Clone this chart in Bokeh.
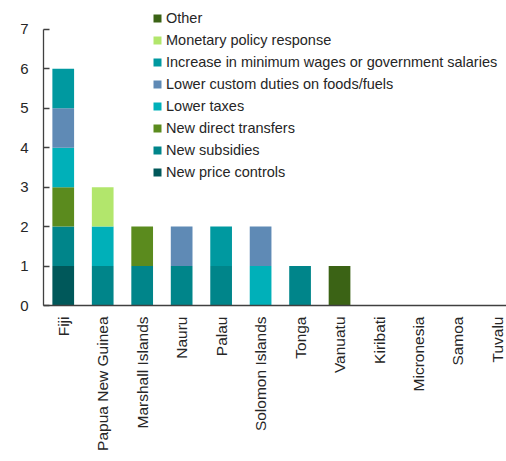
import math
from bokeh.plotting import figure
from bokeh.models import (Range1d, FixedTicker, SingleIntervalTicker, Legend, LegendItem,
                          ColumnDataSource)
from bokeh.embed import file_html
from bokeh.resources import INLINE

countries = ["Fiji", "Papua New Guinea", "Marshall Islands", "Nauru", "Palau",
             "Solomon Islands", "Tonga", "Vanuatu", "Kiribati", "Micronesia",
             "Samoa", "Tuvalu"]

price_controls = [1, 0, 0, 0, 0, 0, 0, 0, 0, 0, 0, 0]
subsidies      = [1, 1, 1, 1, 1, 0, 1, 0, 0, 0, 0, 0]
direct_transf  = [1, 0, 1, 0, 0, 0, 0, 0, 0, 0, 0, 0]
lower_taxes    = [1, 1, 0, 0, 0, 1, 0, 0, 0, 0, 0, 0]
custom_duties  = [1, 0, 0, 1, 0, 1, 0, 0, 0, 0, 0, 0]
wages          = [1, 0, 0, 0, 1, 0, 0, 0, 0, 0, 0, 0]
monetary       = [0, 1, 0, 0, 0, 0, 0, 0, 0, 0, 0, 0]
other          = [0, 0, 0, 0, 0, 0, 0, 1, 0, 0, 0, 0]

series_keys = ["price_controls", "subsidies", "direct_transf", "lower_taxes",
               "custom_duties", "wages", "monetary", "other"]
series_names = ["New price controls", "New subsidies", "New direct transfers",
                "Lower taxes", "Lower custom duties on foods/fuels",
                "Increase in minimum wages or government salaries",
                "Monetary policy response", "Other"]
series_colors = ["#00585a", "#00858a", "#5b8b1e", "#00b0b9", "#5f8ab5",
                 "#0099a0", "#b2e66c", "#3b6315"]

FONT = "Liberation Sans"

x_idx = list(range(len(countries)))
data = dict(x=x_idx, price_controls=price_controls, subsidies=subsidies,
            direct_transf=direct_transf, lower_taxes=lower_taxes,
            custom_duties=custom_duties, wages=wages, monetary=monetary, other=other)
source = ColumnDataSource(data)

p = figure(width=506, height=461, output_backend="svg", toolbar_location=None,
           x_range=Range1d(-0.5, 11.23), y_range=Range1d(0, 7.53),
           min_border_left=43, min_border_top=8, min_border_right=0,
           min_border_bottom=156)

renderers = p.vbar_stack(series_keys, x="x", width=0.55, color=series_colors,
                         source=source, line_color=None)

p.xgrid.visible = False
p.ygrid.visible = False
p.outline_line_color = None
p.background_fill_color = "white"
p.border_fill_color = "white"

# x axis
p.xaxis.ticker = FixedTicker(ticks=x_idx)
p.xaxis.major_label_overrides = {i: c for i, c in enumerate(countries)}
p.xaxis.major_label_orientation = math.pi / 2
p.xaxis.major_tick_in = 0
p.xaxis.major_tick_out = 0
p.xaxis.minor_tick_in = 0
p.xaxis.minor_tick_out = 0
p.xaxis.major_label_standoff = 11
p.xaxis.major_label_text_font_size = "15.5px"

# y axis
p.yaxis.ticker = SingleIntervalTicker(interval=1)
p.yaxis.bounds = (0, 7)
p.yaxis.major_tick_in = 6
p.yaxis.major_tick_out = 0
p.yaxis.minor_tick_in = 0
p.yaxis.minor_tick_out = 0
p.yaxis.major_label_standoff = 15
p.yaxis.major_label_text_font_size = "15px"

for ax in (p.xaxis, p.yaxis):
    ax.axis_line_color = "#404040"
    ax.axis_line_width = 1.3
    ax.major_tick_line_color = "#404040"
    ax.major_tick_line_width = 1.3
    ax.major_label_text_font = FONT
    ax.major_label_text_color = "#262626"

items = [LegendItem(label=series_names[i], renderers=[renderers[i]])
         for i in reversed(range(len(series_keys)))]
legend = Legend(items=items, location=(109, 123))
legend.glyph_width = 10
legend.glyph_height = 10
legend.label_height = 20
legend.spacing = 2
legend.padding = 0
legend.margin = 0
legend.label_standoff = 4
legend.border_line_color = None
legend.background_fill_alpha = 0
legend.label_text_font = FONT
legend.label_text_font_size = "14.5px"
legend.label_text_color = "#262626"
p.add_layout(legend, "center")

open("out.html", "w").write(file_html(p, INLINE))
